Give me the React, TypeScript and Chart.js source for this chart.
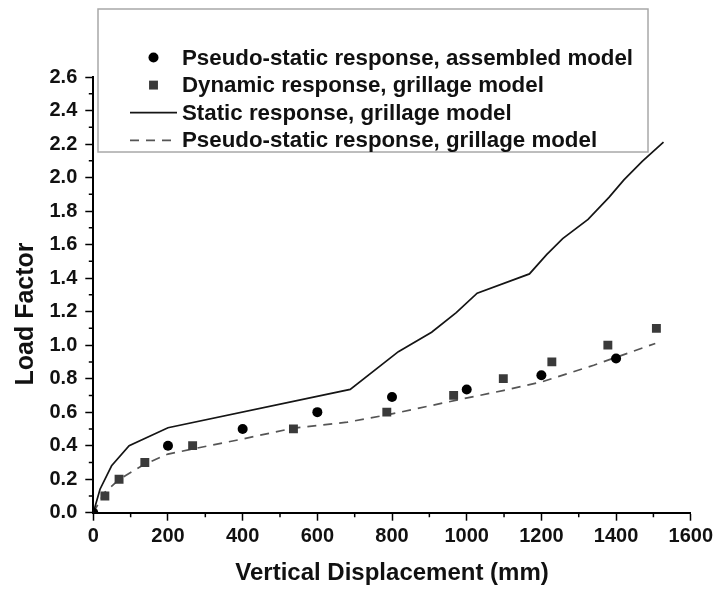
import React, { useEffect, useRef } from 'react';
import { Chart, registerables } from 'chart.js';

Chart.register(...registerables);

// Load factor vs. vertical displacement for the bridge models
const assembledX = [0, 200, 400, 600, 800, 1000, 1200, 1400];
const assembledY = [0, 0.4, 0.5, 0.6, 0.69, 0.735, 0.82, 0.92];

const dynamicX = [31, 69, 138, 266, 536, 786, 965, 1098, 1228, 1378, 1508];
const dynamicY = [0.1, 0.2, 0.3, 0.4, 0.5, 0.6, 0.7, 0.8, 0.9, 1.0, 1.1];

const staticX = [0, 18, 49, 96, 200, 688, 817, 906, 972, 1028, 1168, 1214, 1257, 1325, 1381, 1421, 1470, 1527];
const staticY = [0, 0.14, 0.28, 0.4, 0.507, 0.736, 0.961, 1.077, 1.194, 1.31, 1.425, 1.54, 1.636, 1.75, 1.882, 1.986, 2.096, 2.211];

const pseudoX = [0, 30, 70, 138, 200, 266, 400, 536, 680, 790, 980, 1100, 1200, 1340, 1505];
const pseudoY = [0, 0.12, 0.2, 0.29, 0.35, 0.38, 0.44, 0.505, 0.54, 0.585, 0.675, 0.73, 0.78, 0.88, 1.01];

const seriesLabels = [
  'Pseudo-static response, assembled model',
  'Dynamic response, grillage model',
  'Static response, grillage model',
  'Pseudo-static response, grillage model',
];

const xMinorTicks = [100, 300, 500, 700, 900, 1100, 1300, 1500];
const yMinorTicks = [0.1, 0.3, 0.5, 0.7, 0.9, 1.1, 1.3, 1.5, 1.7, 1.9, 2.1, 2.3, 2.5];

const xTitle = 'Vertical Displacement (mm)';
const yTitle = 'Load Factor';

const FONT = '"Liberation Sans", Arial, Helvetica, sans-serif';

const toPoints = (xs: number[], ys: number[]) => xs.map((x, i) => ({ x, y: ys[i] }));

// short ticks between the labelled ones
const minorTickPlugin = {
  id: 'minorTicks',
  afterDraw(chart: any) {
    const { ctx, scales } = chart;
    const xs = scales.x;
    const ys = scales.y;
    ctx.save();
    ctx.strokeStyle = '#000';
    ctx.lineWidth = 1.5;
    ctx.beginPath();
    for (const v of xMinorTicks) {
      const px = xs.getPixelForValue(v);
      ctx.moveTo(px, ys.bottom);
      ctx.lineTo(px, ys.bottom + 4.5);
    }
    for (const v of yMinorTicks) {
      const py = ys.getPixelForValue(v);
      ctx.moveTo(xs.left - 4.5, py);
      ctx.lineTo(xs.left, py);
    }
    ctx.stroke();
    ctx.restore();
  },
};

// rotated y-axis title
const yTitlePlugin = {
  id: 'yTitle',
  afterDraw(chart: any) {
    const { ctx } = chart;
    ctx.save();
    ctx.translate(26, 314);
    ctx.rotate(-Math.PI / 2);
    ctx.font = `bold 25px ${FONT}`;
    ctx.fillStyle = '#111';
    ctx.textAlign = 'center';
    ctx.textBaseline = 'middle';
    ctx.fillText(yTitle, 0, 0);
    ctx.restore();
  },
};

// framed legend in the upper part of the plot
const boxLegendPlugin = {
  id: 'boxLegend',
  afterDraw(chart: any) {
    const { ctx } = chart;
    const box = { left: 98, top: 9, width: 550, height: 143 };
    ctx.save();
    ctx.fillStyle = '#fff';
    ctx.fillRect(box.left, box.top, box.width, box.height);
    ctx.strokeStyle = '#a8a8a8';
    ctx.lineWidth = 1.5;
    ctx.strokeRect(box.left, box.top, box.width, box.height);

    const rowY0 = 57.5;
    const rowGap = 27.6;
    const symX = 153.5;
    const lineX0 = 130;
    const lineX1 = 177;
    const textX = 182;

    chart.data.datasets.forEach((ds: any, i: number) => {
      const y = rowY0 + i * rowGap;
      if (ds.showLine) {
        ctx.save();
        ctx.strokeStyle = ds.borderColor;
        ctx.lineWidth = ds.borderWidth;
        ctx.setLineDash(ds.borderDash || []);
        ctx.beginPath();
        ctx.moveTo(lineX0, y);
        ctx.lineTo(lineX1, y);
        ctx.stroke();
        ctx.restore();
      } else {
        ctx.fillStyle = ds.backgroundColor;
        ctx.beginPath();
        if (ds.pointStyle === 'rect') {
          const s = ds.pointRadius * Math.SQRT1_2;
          ctx.rect(symX - s, y - s, 2 * s, 2 * s);
        } else {
          ctx.arc(symX, y, ds.pointRadius, 0, Math.PI * 2);
        }
        ctx.fill();
      }
      ctx.font = `bold 22.3px ${FONT}`;
      ctx.fillStyle = '#111';
      ctx.textAlign = 'left';
      ctx.textBaseline = 'middle';
      ctx.fillText(ds.label, textX, y + 1);
    });
    ctx.restore();
  },
};

export default function App() {
  const canvasRef = useRef<HTMLCanvasElement | null>(null);

  useEffect(() => {
    const canvas = canvasRef.current;
    if (!canvas) return;

    const tickFont = { family: FONT, size: 20, weight: 'bold' as const };

    const chart = new Chart(canvas, {
      type: 'scatter',
      data: {
        datasets: [
          {
            label: seriesLabels[0],
            data: toPoints(assembledX, assembledY),
            pointStyle: 'circle',
            pointRadius: 5,
            pointBorderWidth: 0,
            backgroundColor: '#000',
            borderColor: '#000',
            showLine: false,
            order: 0,
          },
          {
            label: seriesLabels[1],
            data: toPoints(dynamicX, dynamicY),
            pointStyle: 'rect',
            pointRadius: 6.3,
            pointBorderWidth: 0,
            backgroundColor: '#3a3a3a',
            borderColor: '#3a3a3a',
            showLine: false,
            order: 1,
          },
          {
            label: seriesLabels[2],
            data: toPoints(staticX, staticY),
            showLine: true,
            borderColor: '#151515',
            backgroundColor: '#151515',
            borderWidth: 1.7,
            pointRadius: 0,
            tension: 0,
            order: 2,
          },
          {
            label: seriesLabels[3],
            data: toPoints(pseudoX, pseudoY),
            showLine: true,
            borderColor: '#555',
            backgroundColor: '#555',
            borderWidth: 1.7,
            borderDash: [9, 7],
            pointRadius: 0,
            tension: 0,
            order: 3,
          },
        ],
      },
      options: {
        animation: false,
        responsive: false,
        devicePixelRatio: 1,
        layout: { padding: { top: 77, right: 23, left: 0, bottom: 0 } },
        plugins: {
          legend: { display: false },
          tooltip: { enabled: false },
        },
        scales: {
          x: {
            type: 'linear',
            min: 0,
            max: 1600,
            afterFit: (s: any) => {
              s.height = 79.3;
            },
            border: { display: true, color: '#000', width: 2 },
            grid: {
              display: true,
              drawOnChartArea: false,
              drawTicks: true,
              tickLength: 8,
              tickColor: '#000',
              tickWidth: 1.5,
            },
            ticks: {
              stepSize: 200,
              autoSkip: false,
              maxRotation: 0,
              padding: 4,
              color: '#111',
              font: tickFont,
              callback: (v: any) => String(Math.round(Number(v))),
            },
            title: {
              display: true,
              text: xTitle,
              color: '#111',
              font: { family: FONT, size: 24, weight: 'bold', lineHeight: 1.2 },
              padding: { top: 0, bottom: 4 },
            },
          },
          y: {
            type: 'linear',
            min: 0,
            max: 2.6,
            afterFit: (s: any) => {
              s.width = 93.3;
            },
            border: { display: true, color: '#000', width: 2 },
            grid: {
              display: true,
              drawOnChartArea: false,
              drawTicks: true,
              tickLength: 8,
              tickColor: '#000',
              tickWidth: 1.5,
            },
            ticks: {
              stepSize: 0.2,
              autoSkip: false,
              padding: 8,
              color: '#111',
              font: tickFont,
              callback: (v: any) => Number(v).toFixed(1),
            },
          },
        },
      },
      plugins: [minorTickPlugin, yTitlePlugin, boxLegendPlugin],
    });

    return () => chart.destroy();
  }, []);

  return (
    <div style={{ position: 'fixed', left: 0, top: 0, width: 717, height: 592, background: '#fff' }}>
      <canvas ref={canvasRef} width={717} height={592} style={{ width: 717, height: 592, display: 'block' }} />
    </div>
  );
}
